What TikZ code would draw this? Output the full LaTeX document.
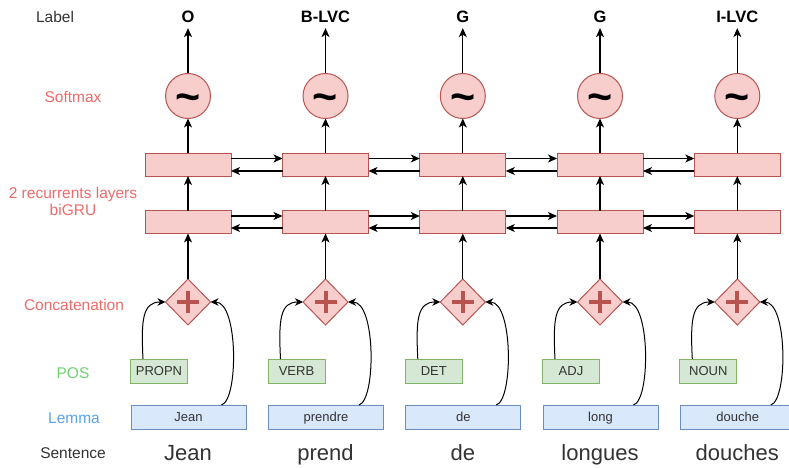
\documentclass[tikz,border=0pt]{standalone}
\usepackage{fontspec}
\setmainfont{Liberation Sans}
\usetikzlibrary{shapes.geometric,arrows.meta}
\definecolor{pinkF}{HTML}{F8CECC}
\definecolor{pinkD}{HTML}{B85450}
\definecolor{greenF}{HTML}{D5E8D4}
\definecolor{greenD}{HTML}{82B366}
\definecolor{blueF}{HTML}{DAE8FC}
\definecolor{blueD}{HTML}{6C8EBF}
\definecolor{redtxt}{HTML}{F06A6A}
\definecolor{greentxt}{HTML}{6FD46F}
\definecolor{bluetxt}{HTML}{5AA2F0}
\definecolor{graytxt}{HTML}{333333}
\begin{document}
\begin{tikzpicture}[x=1pt,y=-1pt,
  rnn/.style={draw=pinkD, fill=pinkF, line width=1pt, minimum width=86pt, minimum height=23pt, inner sep=0pt, outer sep=0pt},
  smx/.style={circle, draw=pinkD, fill=pinkF, line width=1pt, minimum size=45pt, inner sep=0pt, outer sep=0pt},
  cat/.style={diamond, draw=pinkD, fill=pinkF, line width=1pt, minimum width=45pt, minimum height=46pt, inner sep=0pt, outer sep=0pt},
  boxtxt/.style={font=\fontsize{13}{15}\selectfont, text=graytxt, text height=9.3pt, text depth=0pt, inner sep=0pt, outer sep=0pt, line width=1pt},
  posbox/.style={boxtxt, draw=greenD, fill=greenF, minimum width=57pt, minimum height=24pt},
  lembox/.style={boxtxt, draw=blueD, fill=blueF, minimum width=115pt, minimum height=24pt},
  labtxt/.style={font=\fontsize{16.5}{18}\selectfont\bfseries, text=black, text height=11.8pt, text depth=0pt, inner sep=5pt},
  tildetxt/.style={font=\fontsize{43}{43}\selectfont\bfseries, text=black, inner sep=0pt, anchor=base},
  wordtxt/.style={font=\fontsize{22}{24}\selectfont, text=graytxt, anchor=base, inner sep=0pt},
  sidetxt/.style={font=\fontsize{15.5}{17}\selectfont, anchor=base, inner sep=0pt, align=center},
  plusline/.style={draw=pinkD, line width=4pt},
  arr/.style={-{Stealth[length=9pt,width=8pt,inset=2.5pt]}, line width=1.2pt, draw=black},
  carr/.style={-{Stealth[length=8pt,width=7.5pt,inset=2.5pt]}, line width=1pt, draw=black}
]
\useasboundingbox (0,0) rectangle (789,468);
\fill[white] (0,0) rectangle (789,468);

% side labels
\node[sidetxt, text=graytxt] (hLabel) at (55,22.7) {Label};
\node[sidetxt, text=redtxt] (hSoft) at (73,102.5) {Softmax};
\node[sidetxt, text=redtxt] (hRnn1) at (73,198) {2 recurrents layers};
\node[sidetxt, text=redtxt] (hRnn2) at (73,215) {biGRU};
\node[sidetxt, text=redtxt] (hCat) at (74,310) {Concatenation};
\node[sidetxt, text=greentxt] (hPos) at (73,378) {POS};
\node[sidetxt, text=bluetxt] (hLem) at (74,423) {Lemma};
\node[sidetxt, text=graytxt] (hSent) at (73,458) {Sentence};

\foreach \i/\x/\lab/\pos/\lem/\w in {1/188/O/PROPN/Jean/Jean, 2/325.5/B-LVC/VERB/prendre/prend, 3/462.8/G/DET/de/de, 4/600/G/ADJ/long/longues, 5/737.3/I-LVC/NOUN/douche/douches}{
  \node[labtxt] (t\i) at (\x,17) {\lab};
  \node[smx] (s\i) at (\x,96) {};
  \node[tildetxt] (sym\i) at (\x,111) {\textasciitilde};
  \node[rnn] (u\i) at (\x,164.5) {};
  \node[rnn] (l\i) at (\x,222) {};
  \node[cat] (d\i) at (\x,302) {};
  \draw[plusline] ([xshift=-11pt]d\i.center) -- ([xshift=11pt]d\i.center);
  \draw[plusline] ([yshift=-11pt]d\i.center) -- ([yshift=11pt]d\i.center);
  \node[posbox] (p\i) at (\x-29,371) {\pos};
  \node[lembox] (m\i) at (\x+0.5,417) {\lem};
  \node[wordtxt] (w\i) at (\x,460) {\w};
  % vertical arrows
  \draw[arr] (s\i.north) -- (t\i.south);
  \draw[arr] (u\i.north) -- (s\i.south);
  \draw[arr] (l\i.north) -- (u\i.south);
  \draw[arr] (d\i.north) -- (l\i.south);
  % curved inputs
  \draw[carr] ([xshift=-16pt]p\i.north) .. controls +(-2,-39) and +(-23,0) .. (d\i.west);
  \draw[carr] ([xshift=33pt]m\i.north) .. controls +(17,-5) and +(28,0) .. (d\i.east);
}

\foreach \i/\j in {1/2,2/3,3/4,4/5}{
  \draw[arr] ([yshift=6pt]u\i.east) -- ([yshift=6pt]u\j.west);
  \draw[arr] ([yshift=-6.5pt]u\j.west) -- ([yshift=-6.5pt]u\i.east);
  \draw[arr] ([yshift=6pt]l\i.east) -- ([yshift=6pt]l\j.west);
  \draw[arr] ([yshift=-6pt]l\j.west) -- ([yshift=-6pt]l\i.east);
}
\end{tikzpicture}
\end{document}
